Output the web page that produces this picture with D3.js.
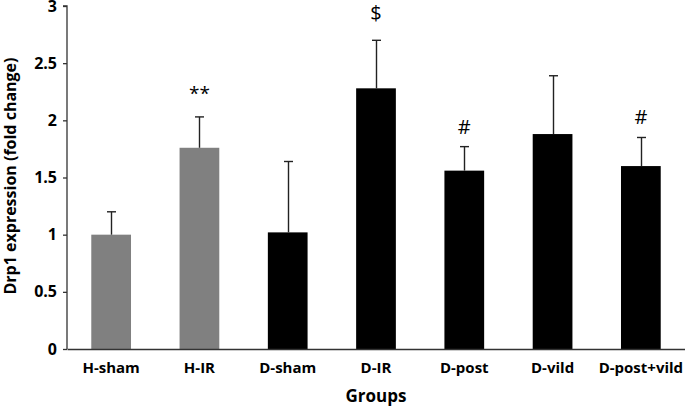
<!DOCTYPE html>
<html><head><meta charset="utf-8">
<script src="https://cdn.jsdelivr.net/npm/d3@7"></script>
<style>body{margin:0;background:#fff}svg{display:block}</style>
</head><body>
<svg id="c" width="685" height="407"></svg>
<script>
const groups = ["H-sham","H-IR","D-sham","D-IR","D-post","D-vild","D-post+vild"];
const means  = [1.00, 1.76, 1.02, 2.28, 1.56, 1.88, 1.60];
const errors = [0.20, 0.27, 0.62, 0.42, 0.21, 0.51, 0.25];
const marks  = ["", "**", "", "$", "#", "", "#"];
const colors = ["#808080","#808080","#000000","#000000","#000000","#000000","#000000"];
const yTicks = [0, 0.5, 1, 1.5, 2, 2.5, 3];

const svg = d3.select("#c");
const x0 = 67, x1 = 685, yTop = 6, yBot = 349;
const x = d3.scaleBand().domain(groups).range([x0, x1]).paddingInner(0.55).paddingOuter(0.275);
const y = d3.scaleLinear().domain([0, 3]).range([yBot, yTop]);
const font = "'Open Sans', 'Liberation Sans', sans-serif";
const markOffset = {"**": 17, "$": 20, "#": 13};
const markSize = {"**": 19, "$": 20, "#": 20};

// bars
svg.selectAll("rect.bar").data(groups).join("rect")
  .attr("x", d => x(d)).attr("width", x.bandwidth())
  .attr("y", (d,i) => y(means[i])).attr("height", (d,i) => y(0) - y(means[i]))
  .attr("fill", (d,i) => colors[i]);

// error bars
const eb = svg.append("g").attr("stroke", "#222").attr("stroke-width", 1.4);
groups.forEach((g,i) => {
  const cx = Math.round(x(g) + x.bandwidth()/2) + 0.5;
  eb.append("line").attr("x1", cx).attr("x2", cx).attr("y1", y(means[i])).attr("y2", y(means[i]+errors[i]));
  eb.append("line").attr("x1", cx-4.5).attr("x2", cx+4.5).attr("y1", y(means[i]+errors[i])).attr("y2", y(means[i]+errors[i]));
});

// significance marks
svg.selectAll("text.mark").data(groups.filter((d,i)=>marks[i])).join("text")
  .attr("x", d => x(d) + x.bandwidth()/2)
  .attr("y", d => { const i = groups.indexOf(d); return y(means[i]+errors[i]) - markOffset[marks[i]]; })
  .attr("text-anchor", "middle")
  .attr("font-family", font)
  .attr("font-size", d => markSize[marks[groups.indexOf(d)]])
  .attr("fill", "#000")
  .text(d => marks[groups.indexOf(d)]);

// y axis
const ya = svg.append("g").attr("transform", `translate(${x0},0)`)
  .call(d3.axisLeft(y).tickValues(yTicks).tickSize(4).tickPadding(6).tickFormat(d3.format("")));
ya.select(".domain").attr("stroke", "#333").attr("stroke-width", 1.3).attr("d", `M-4,${yTop}H0V${yBot}`);
ya.selectAll(".tick line").attr("stroke", "#333").attr("stroke-width", 1.3);
ya.selectAll(".tick text").attr("font-family", font).attr("font-weight", "bold").attr("font-size", 16).attr("fill", "#000");

// x axis
const xa = svg.append("g").attr("transform", `translate(0,${yBot})`)
  .call(d3.axisBottom(x).tickSize(0).tickPadding(13));
xa.select(".domain").attr("stroke", "#333").attr("stroke-width", 1.3);
xa.selectAll(".tick text").attr("font-family", font).attr("font-weight", "bold").attr("font-size", 15).attr("fill", "#000");

// titles
svg.append("text").attr("x", 376).attr("y", 402).attr("text-anchor", "middle")
  .attr("font-family", font).attr("font-weight", "bold").attr("font-size", 17).text("Groups");
svg.append("text").attr("transform", "translate(16,176) rotate(-90)").attr("text-anchor", "middle")
  .attr("font-family", font).attr("font-weight", "bold").attr("font-size", 16).text("Drp1 expression (fold change)");
</script>
</body></html>
